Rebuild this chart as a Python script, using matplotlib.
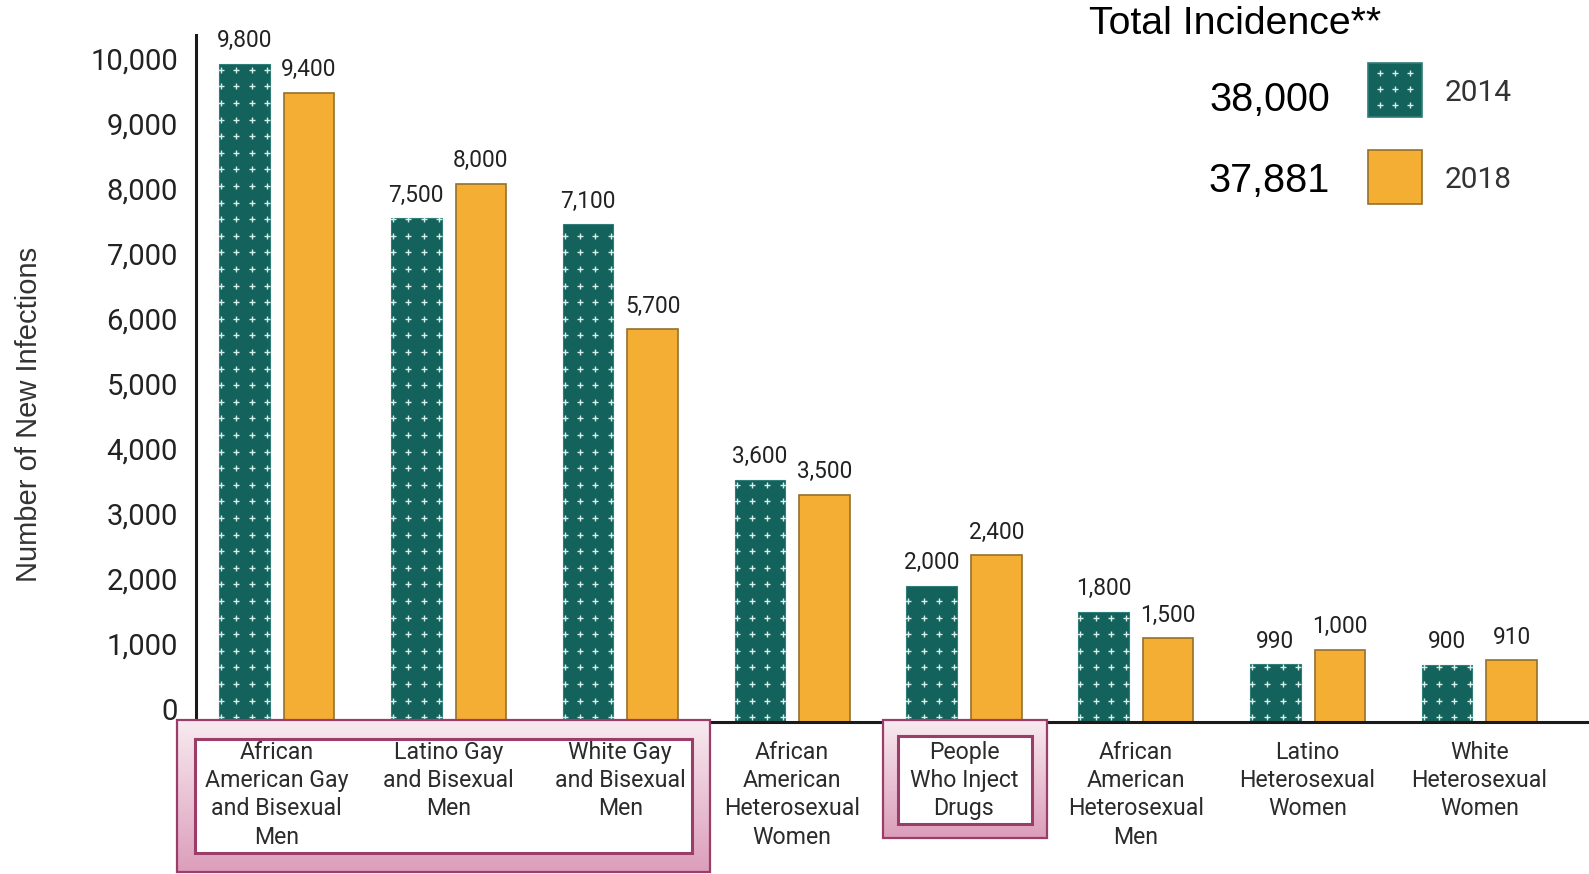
import numpy as np
import matplotlib
matplotlib.use("Agg")
import matplotlib.pyplot as plt
from matplotlib.patches import Rectangle
from matplotlib.colors import LinearSegmentedColormap

# data
categories = [
    "African\nAmerican Gay\nand Bisexual\nMen",
    "Latino Gay\nand Bisexual\nMen",
    "White Gay\nand Bisexual\nMen",
    "African\nAmerican\nHeterosexual\nWomen",
    "People\nWho Inject\nDrugs",
    "African\nAmerican\nHeterosexual\nMen",
    "Latino\nHeterosexual\nWomen",
    "White\nHeterosexual\nWomen",
]
labels_2014 = ["9,800", "7,500", "7,100", "3,600", "2,000", "1,800", "990", "900"]
labels_2018 = ["9,400", "8,000", "5,700", "3,500", "2,400", "1,500", "1,000", "910"]
# bar heights as drawn in the graphic (they don't match the printed labels exactly)
heights_2014 = [9930, 7550, 7460, 3530, 1900, 1500, 690, 680]
heights_2018 = [9480, 8080, 5840, 3300, 2370, 1090, 910, 750]
yticks = list(range(0, 10001, 1000))
years = ["2014", "2018"]
totals = ["38,000", "37,881"]
highlight_groups = [(0, 2), (4, 4)]

TEAL = "#13625b"
GOLD = "#f4ae33"
EDGE_BOX = "#9b3d69"

W, H = 1589, 874
fig = plt.figure(figsize=(W / 100, H / 100), dpi=100)

# main axes (pixel layout from the reference)
ax = fig.add_axes([196 / W, (H - 721.7) / H, 1 - 196 / W, 686.7 / H])
ax.set_xlim(-0.47, 7.638)
ax.set_ylim(-195, 10370)
base = ax.get_ylim()[0]

x = np.arange(len(categories))
bw, off = 0.294, 0.188
h14 = np.array(heights_2014)
h18 = np.array(heights_2018)
bars14 = ax.bar(x - off, h14 - base, bottom=base, width=bw, color=TEAL,
                edgecolor="#2f7d76", linewidth=0.8, zorder=2)
bars18 = ax.bar(x + off, h18 - base, bottom=base, width=bw, color=GOLD,
                edgecolor="#94702c", linewidth=1.2, zorder=2)

for spine in ["top", "right"]:
    ax.spines[spine].set_visible(False)
for spine in ["left", "bottom"]:
    ax.spines[spine].set_linewidth(2.2)
    ax.spines[spine].set_color("#1a1a1a")
    ax.spines[spine].set_zorder(3)

ax.set_xticks([])
ax.set_yticks(yticks)
ax.set_yticklabels([f"{v:,}" for v in yticks], fontsize=21, family="Roboto", color="#222222")
ax.tick_params(axis="y", length=0, pad=13)

# value labels above the bars
for b, lab in zip(bars14, labels_2014):
    ax.annotate(lab, (b.get_x() + b.get_width() / 2, b.get_y() + b.get_height()),
                xytext=(0, 16.5), textcoords="offset points", ha="center", va="center",
                fontsize=16.3, family="Roboto", color="#222222")
for b, lab in zip(bars18, labels_2018):
    ax.annotate(lab, (b.get_x() + b.get_width() / 2, b.get_y() + b.get_height()),
                xytext=(0, 16.5), textcoords="offset points", ha="center", va="center",
                fontsize=16.3, family="Roboto", color="#222222")

# white "+" pattern on the 2014 bars
to_data = ax.transData.inverted()
for b in bars14:
    (l, btm) = ax.transData.transform((b.get_x(), b.get_y()))
    (r, top) = ax.transData.transform((b.get_x() + b.get_width(), b.get_y() + b.get_height()))
    cols = np.arange(l + 2, r + 1, 15.3)
    rows = np.arange(btm + 4.6, top, 16.6)
    gx, gy = np.meshgrid(cols, rows)
    pts = to_data.transform(np.column_stack([gx.ravel(), gy.ravel()]))
    sc = ax.scatter(pts[:, 0], pts[:, 1], marker="+", s=16, linewidths=1.0,
                    color="#d8eeea", zorder=2.5)
    sc.set_clip_path(b)

# y axis title
fig.text(29 / W, 1 - 414 / H, "Number of New Infections", rotation=90, ha="center",
         va="center", fontsize=21, family="Liberation Sans", color="#333333")

# overlay in pixel coordinates for the boxes, category labels and legend
ov = fig.add_axes([0, 0, 1, 1], zorder=5)
ov.set_xlim(0, W)
ov.set_ylim(H, 0)
ov.axis("off")
ov.patch.set_alpha(0)


def px(xv):
    return ax.transData.transform((xv, 0))[0]


pink = LinearSegmentedColormap.from_list("pink", ["#f8eaf0", "#dc9ebb"])
grad = np.linspace(0, 1, 200).reshape(-1, 1)
for g0, g1 in highlight_groups:
    if g0 == g1:
        ox0, ox1, oy1 = px(g0) - 81, px(g1) + 83, 838
        ix0, ix1, iy0, iy1 = px(g0) - 66, px(g1) + 68, 736, 824
    else:
        ox0, ox1, oy1 = px(g0) - 100, px(g1) + 90, 872
        ix0, ix1, iy0, iy1 = px(g0) - 82, px(g1) + 72, 739, 853
    oy0 = 720
    ov.imshow(grad, extent=(ox0, ox1, oy1, oy0), cmap=pink, aspect="auto",
              origin="upper", zorder=1)
    ov.add_patch(Rectangle((ox0, oy0), ox1 - ox0, oy1 - oy0, fill=False,
                           edgecolor=EDGE_BOX, linewidth=1.6, zorder=2))
    ov.add_patch(Rectangle((ix0, iy0), ix1 - ix0, iy1 - iy0, facecolor="white",
                           edgecolor=EDGE_BOX, linewidth=2.2, zorder=3))
ov.set_xlim(0, W)
ov.set_ylim(H, 0)

for i, cat in enumerate(categories):
    ov.text(px(i), 741, cat, ha="center", va="top", fontsize=16.7, family="Roboto",
            color="#2b2b2b", linespacing=1.29, zorder=4)

# legend block
ov.text(1089, 24, "Total Incidence**", ha="left", va="center", fontsize=28.3,
        family="Liberation Sans", color="black")
legend_y = [90, 177]
totals_y = [100, 181]
for yc, ty, yr, tot, col in zip(legend_y, totals_y, years, totals, [TEAL, GOLD]):
    ov.text(1330, ty, tot, ha="right", va="center", fontsize=28.5,
            family="Liberation Sans", color="black")
    ec = "#2f7d76" if col == TEAL else "#94702c"
    ov.add_patch(Rectangle((1368, yc - 27), 54, 54, facecolor=col, edgecolor=ec,
                           linewidth=1.2))
    if col == TEAL:
        gx, gy = np.meshgrid([1380, 1395, 1410], [yc - 17, yc - 1, yc + 15])
        ov.scatter(gx.ravel(), gy.ravel(), marker="+", s=16, linewidths=1.0,
                   color="#d8eeea", zorder=3)
    ov.text(1445, yc + 3, yr, ha="left", va="center", fontsize=21.5, family="Roboto",
            color="#333333")

fig.savefig("out.png", dpi=100)
